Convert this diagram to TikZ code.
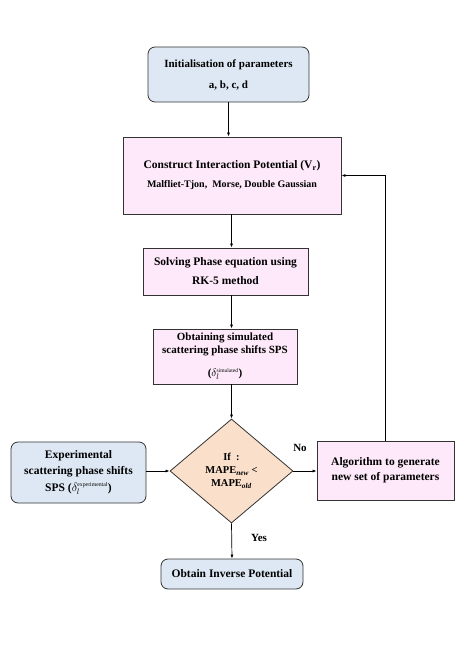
\documentclass[tikz,border=0pt]{standalone}
\usepackage{fontspec}
\setmainfont{Liberation Serif}
\usetikzlibrary{arrows.meta, positioning, shapes.geometric}
\definecolor{paleblue}{HTML}{DEE8F4}
\definecolor{palepink}{HTML}{FDE9F9}
\definecolor{palepeach}{HTML}{FADFCB}
\definecolor{edgegray}{HTML}{333333}

\begin{document}
\begin{tikzpicture}[
    x=1pt, y=-1pt,
    every node/.style={font=\bfseries\fontsize{11.5}{14}\selectfont, align=center, inner sep=0pt},
    inputbox/.style={draw=edgegray, line width=0.8pt, fill=paleblue, rounded corners=7pt},
    procbox/.style={draw=edgegray, line width=0.8pt, fill=palepink},
    decision/.style={draw=edgegray, line width=0.8pt, fill=palepeach, diamond},
    flow/.style={draw=black, -{Latex[length=4pt, width=3pt]}, line width=0.7pt}
]
\useasboundingbox (0,0) rectangle (463,655);

% Main column
\node[inputbox, minimum width=161pt, minimum height=55pt,
      font=\bfseries\fontsize{11}{13.5}\selectfont] (init) at (228.5,74.5)
    {Initialisation of parameters\\[7.5pt] a, b, c, d};
\node[procbox, minimum width=218pt, minimum height=77pt] (construct) at (232,175.5)
    {Construct Interaction Potential (V\textsubscript{r})\\[5pt]
     {\fontsize{10}{12}\selectfont Malfliet-Tjon,~ Morse, Double Gaussian}};
\node[procbox, minimum width=165pt, minimum height=47pt] (solve) at (225.5,271.5)
    {Solving Phase equation using\\[5pt] RK-5 method};
\node[procbox, minimum width=144pt, minimum height=55pt,
      font=\bfseries\fontsize{11}{13}\selectfont] (obtain) at (225,356.5)
    {Obtaining simulated\\ scattering phase shifts SPS\\[10pt]
     ($\delta_l^{\scriptscriptstyle\mathrm{simulated}}$)};
\node[decision, minimum width=123pt, minimum height=104pt,
      font=\bfseries\fontsize{10.5}{13}\selectfont] (cond) at (231.5,471)
    {If~~:\\ MAPE\textsubscript{\textit{new}} <\\ MAPE\textsubscript{\textit{old}}};
\node[inputbox, minimum width=142pt, minimum height=30pt] (inverse) at (232,574)
    {Obtain Inverse Potential};

% Side boxes
\node[inputbox, minimum width=135pt, minimum height=61pt,
      font=\bfseries\fontsize{11.5}{16}\selectfont] (exper) at (78.5,472.5)
    {Experimental\\ scattering phase shifts\\[1pt] SPS ($\delta_l^{\scriptscriptstyle\mathrm{experimental}}$)};
\node[procbox, minimum width=137pt, minimum height=59pt,
      font=\bfseries\fontsize{11.5}{15}\selectfont] (algo) at (385.5,470.5)
    {Algorithm to generate\\ new set of parameters};

% Branch labels
\node[font=\bfseries\fontsize{11}{13}\selectfont] (no) at (300,448) {No};
\node[font=\bfseries\fontsize{11}{13}\selectfont] (yes) at (259,538) {Yes};

% Edges
\draw[flow] (init.south) -- (init.south |- construct.north);
\draw[flow] (construct.south -| cond.north) -- (solve.north -| cond.north);
\draw[flow] (solve.south -| cond.north) -- (obtain.north -| cond.north);
\draw[flow] (obtain.south -| cond.north) -- (cond.north);
\draw[flow] (exper.east |- cond.west) -- (cond.west);
\draw[flow] (cond.east) -- (algo.west |- cond.east);
\draw[flow] (algo.north) |- (construct.east);
\draw[flow] (cond.south) -- (inverse.north);

\end{tikzpicture}
\end{document}
